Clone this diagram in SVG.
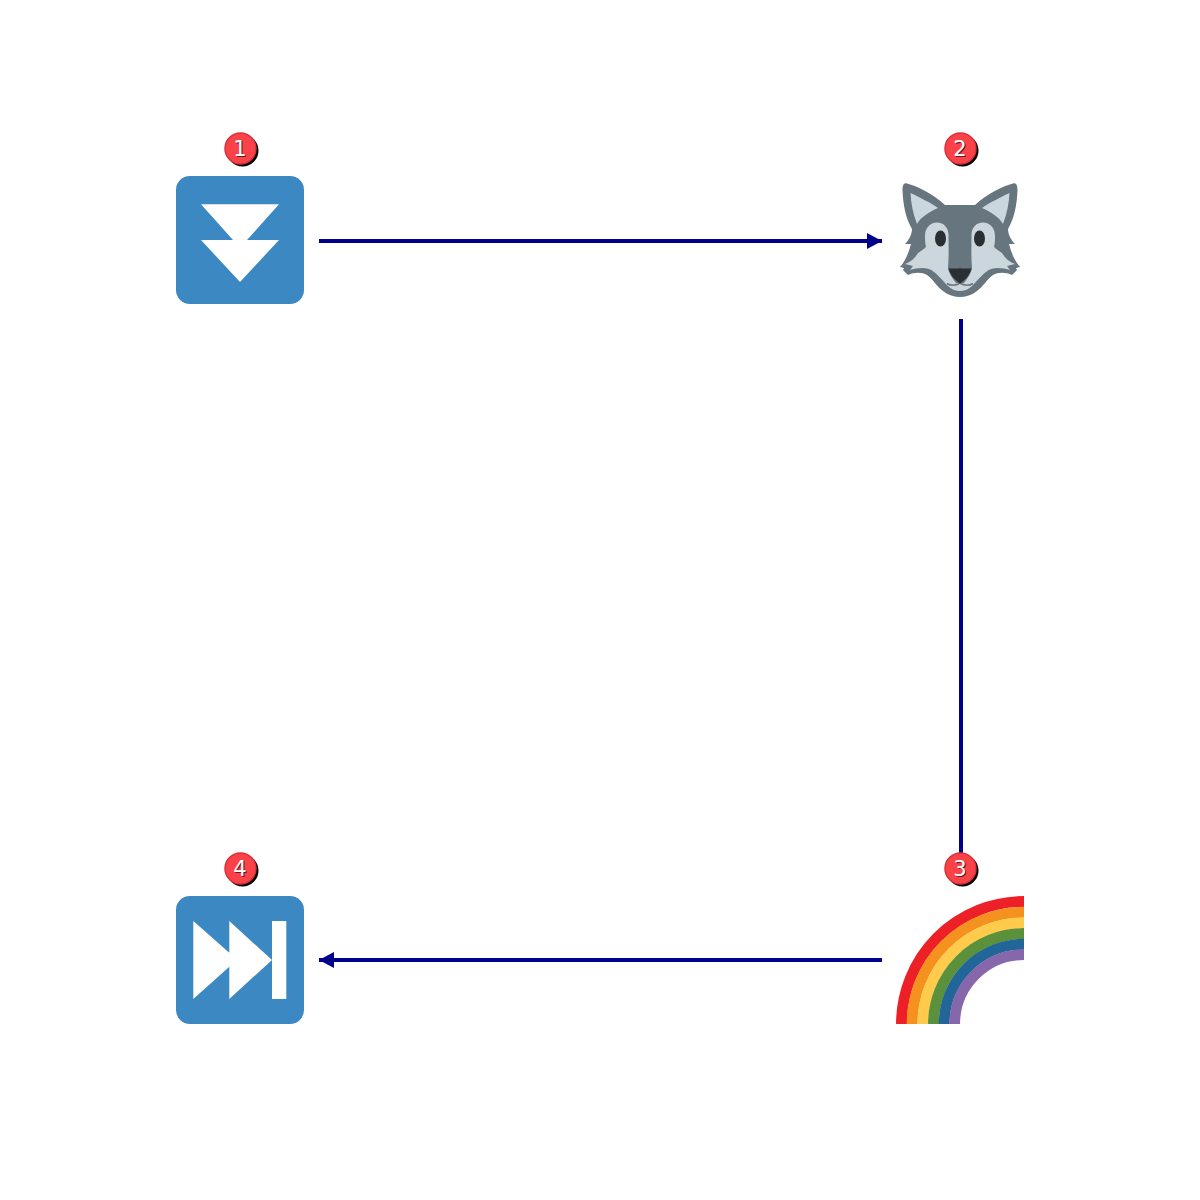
<svg xmlns="http://www.w3.org/2000/svg" width="1200" height="1200" viewBox="0 0 1200 1200">
<style>
.conn{stroke:#00008b;stroke-width:4;fill:none}
.tile{fill:#3b88c3}
.glyph{fill:#fff}
.band{fill:none;stroke-width:10.9}
.fur{fill:#67757f}
.pale{fill:#ccd6dd}
.dark{fill:#292f33}
.shadow{fill:#000}
.disc{fill:#fb4248;stroke:#d8323a;stroke-width:1.500}
.num{font-family:"DejaVu Sans",sans-serif;font-size:21px;text-anchor:middle}
</style>
<defs>
<marker id="arrow" markerUnits="userSpaceOnUse" markerWidth="16" markerHeight="18" refX="15" refY="8" orient="auto"><path d="M0 0L15 8L0 16Z" fill="#00008b"/></marker>
<g id="wolfFur">
<path class="fur" d="M961 205C955 205 950 205 945 205C933 194 917 186 907 183.500C904 182.500 902.500 185 902.500 190C903 205 906 219 912 229C912 234 909 240 905 244L911 244C909 252 906 260 900 267L904 268L903 270L908 275C914 272 922 272 927 275C934 280 937 287 943 291C948 295 954 297 961 297Z"/>
</g>
<g id="wolfFace">
<path class="pale" d="M910.500 193C919 197 931 203 938 208C929 212 921 217 917 224C913 214 911 203 910.500 193Z"/>
<path class="pale" d="M960.500 291C955 291 951 289 948 286C942 280 936 272 929 269C923 267 916 268 910 270L913 266L905 264C911 262 915 258 918 253C921 251 924 249 926 247C925 243 925 240 925 236C925 228 930 222.500 937 222.500C944 222.500 948.500 228 948.500 235C948.500 245 949 256 948 268C949 274 953 279 956 283L961 283V291Z"/>
<path d="M947 283.500C951 286 956 285.500 960.500 283" fill="none" stroke="#67757f" stroke-width="1.500"/>
<ellipse class="dark" cx="940.500" cy="238.500" rx="5.500" ry="8"/>
<path class="dark" d="M961 268.500H948.500C950 275 955 280 960 283.500H961Z"/>
</g>
</defs>

<g id="connectors">
<line class="conn" x1="319" y1="241" x2="882" y2="241" marker-end="url(#arrow)"/>
<line class="conn" x1="961" y1="319" x2="961" y2="860"/>
<line class="conn" x1="882" y1="960" x2="319" y2="960" marker-end="url(#arrow)"/>
</g>

<g id="node1">
<rect class="tile" x="176" y="176" width="128" height="128" rx="14"/>
<path class="glyph" d="M201 204.300H279L247 240H279L240 282L201 240H233Z"/>
<circle class="shadow" cx="242.500" cy="150.500" r="16"/>
<circle class="disc" cx="240.500" cy="148.500" r="15.500"/>
<text class="num" x="241" y="157" fill="#000" opacity=".6">1</text>
<text class="num" x="240" y="156" fill="#fff">1</text>
</g>

<g id="node2">
<use href="#wolfFur"/>
<use href="#wolfFur" transform="translate(1920 0) scale(-1 1)"/>
<use href="#wolfFace"/>
<use href="#wolfFace" transform="translate(1920 0) scale(-1 1)"/>
<circle class="shadow" cx="962.500" cy="150.500" r="16"/>
<circle class="disc" cx="960.500" cy="148.500" r="15.500"/>
<text class="num" x="961" y="157" fill="#000" opacity=".6">2</text>
<text class="num" x="960" y="156" fill="#fff">2</text>
</g>

<g id="node3">
<path class="band" stroke="#ee2027" d="M901.500 1024A122.500 122.500 0 0 1 1024 901.500"/>
<path class="band" stroke="#f4911f" d="M912.200 1024A111.800 111.800 0 0 1 1024 912.200"/>
<path class="band" stroke="#ffcb4c" d="M922.800 1024A101.200 101.200 0 0 1 1024 922.800"/>
<path class="band" stroke="#5c913b" d="M933.500 1024A90.500 90.500 0 0 1 1024 933.500"/>
<path class="band" stroke="#226699" d="M944.200 1024A79.800 79.800 0 0 1 1024 944.200"/>
<path class="band" stroke="#8767ac" style="stroke-width:10.700" d="M954.700 1024A69.300 69.300 0 0 1 1024 954.700"/>
<circle class="shadow" cx="962.500" cy="870.500" r="16"/>
<circle class="disc" cx="960.500" cy="868.500" r="15.500"/>
<text class="num" x="961" y="877" fill="#000" opacity=".6">3</text>
<text class="num" x="960" y="876" fill="#fff">3</text>
</g>

<g id="node4">
<rect class="tile" x="176" y="896" width="128" height="128" rx="14"/>
<path class="glyph" d="M193.300 921L229.300 952.700V921L272 960L229.300 999V966.700L193.300 999Z"/>
<rect class="glyph" x="272" y="921" width="14.300" height="78"/>
<circle class="shadow" cx="242.500" cy="870.500" r="16"/>
<circle class="disc" cx="240.500" cy="868.500" r="15.500"/>
<text class="num" x="241" y="877" fill="#000" opacity=".6">4</text>
<text class="num" x="240" y="876" fill="#fff">4</text>
</g>
</svg>
